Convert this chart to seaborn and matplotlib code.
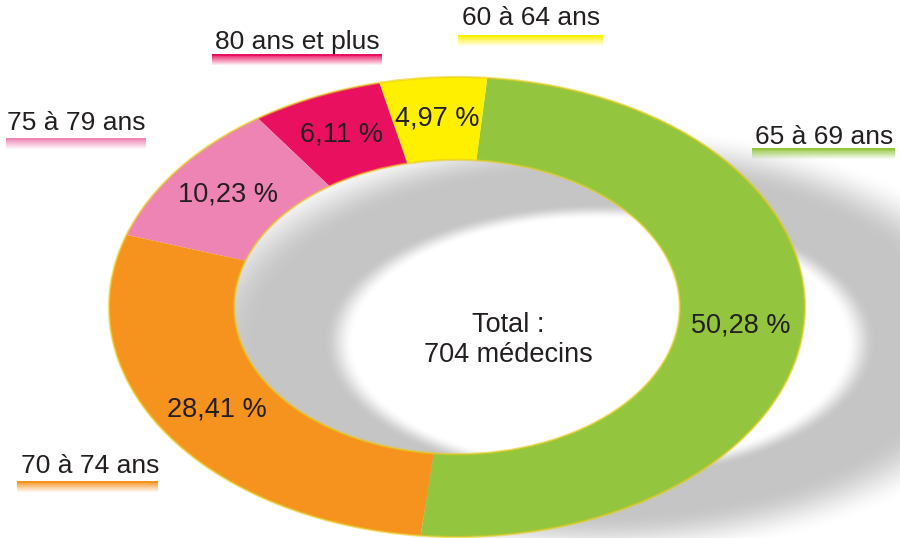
import numpy as np
import matplotlib
matplotlib.use("Agg")
import matplotlib.pyplot as plt
from matplotlib.patches import Circle
from matplotlib.colors import to_rgb
import seaborn as sns

# données : répartition des médecins par tranche d'âge
tranches = ["65 à 69 ans", "60 à 64 ans", "80 ans et plus", "75 à 79 ans", "70 à 74 ans"]
parts = [50.28, 4.97, 6.11, 10.23, 28.41]
couleurs = ["#93c63e", "#fff000", "#e9105f", "#ee84b4", "#f6921e"]
total_txt = "Total :\n704 médecins"

# position des étiquettes extérieures (pixels, origine en haut à gauche)
pos_labels = {
    "65 à 69 ans": (824, 137, 752, 895, 148),
    "60 à 64 ans": (531, 18, 458, 603, 35),
    "80 ans et plus": (297, 42, 212, 382, 54),
    "75 à 79 ans": (76, 123, 6, 146, 138),
    "70 à 74 ans": (90, 466, 17, 158, 481),
}

sns.set_style("white")
plt.rcParams["font.family"] = ["Liberation Sans", "DejaVu Sans"]

W, H = 900, 538
fig = plt.figure(figsize=(9, 5.38), dpi=100)
fig.patch.set_facecolor("white")

# fond : ombre + étiquettes, en coordonnées pixel
ax_bg = fig.add_axes([0, 0, 1, 1], zorder=0)
ax_bg.set_axis_off()

#ombre floue de l'anneau
def smooth(t):
    t = np.clip(t, 0, 1)
    return t * t * (3 - 2 * t)

X, Y = np.meshgrid(np.arange(W) + 0.5, np.arange(H) + 0.5)
rho = np.sqrt(((X - 600) / 300) ** 2 + ((Y - 342) / 150) ** 2)
alpha = 0.5 * smooth((rho - 0.82) / 0.10) * smooth((1.45 - rho) / 0.30)
ombre = np.zeros((H, W, 4))
ombre[..., :3] = 0.55
ombre[..., 3] = alpha
ax_bg.imshow(ombre, extent=(0, W, H, 0), origin="upper", aspect="auto", zorder=0)

# étiquettes avec soulignement en dégradé
for nom, coul in zip(tranches, couleurs):
    tx, ty, x0, x1, yl = pos_labels[nom]
    ax_bg.text(tx, ty, nom, ha="center", va="center", fontsize=19, color="#231f20")
    n = 12
    grad = np.zeros((n, 1, 4))
    grad[..., :3] = to_rgb(coul)
    a = np.ones(n)
    a[2:] = np.linspace(0.8, 0.0, n - 2)
    grad[:, 0, 3] = a
    ax_bg.imshow(grad, extent=(x0, x1, yl + n, yl), origin="upper", aspect="auto", zorder=1)

ax_bg.text(508, 340, total_txt, ha="center", va="center", fontsize=19.5,
           color="#231f20", linespacing=1.2, multialignment="center")
ax_bg.set_xlim(0, W)
ax_bg.set_ylim(H, 0)

# anneau
ax = fig.add_axes([0, 0, 1, 1], zorder=1)
ax.set_facecolor("none")
wedges, texts, autotexts = ax.pie(
    parts,
    colors=sns.color_palette(couleurs),
    startangle=-96,
    counterclock=True,
    radius=1.0,
    autopct=lambda p: f"{p:.2f} %".replace(".", ","),
    pctdistance=0.82,
    wedgeprops=dict(width=0.36, linewidth=0),
    textprops=dict(fontsize=19.5, color="#231f20"),
)
# liseré jaune sur les bords de l'anneau
for r in (1.0, 0.64):
    ax.add_patch(Circle((0, 0), r, fill=False, ec="#e8cc1a", lw=1.6, alpha=0.6))

cx, cy, rx, ry = 457, 307, 348, 230
ax.set_aspect("auto")
ax.set_xlim(-cx / rx, (W - cx) / rx)
ax.set_ylim(-(H - cy) / ry, cy / ry)
ax.set_axis_off()

fig.savefig("out.png", dpi=100, facecolor="white")
